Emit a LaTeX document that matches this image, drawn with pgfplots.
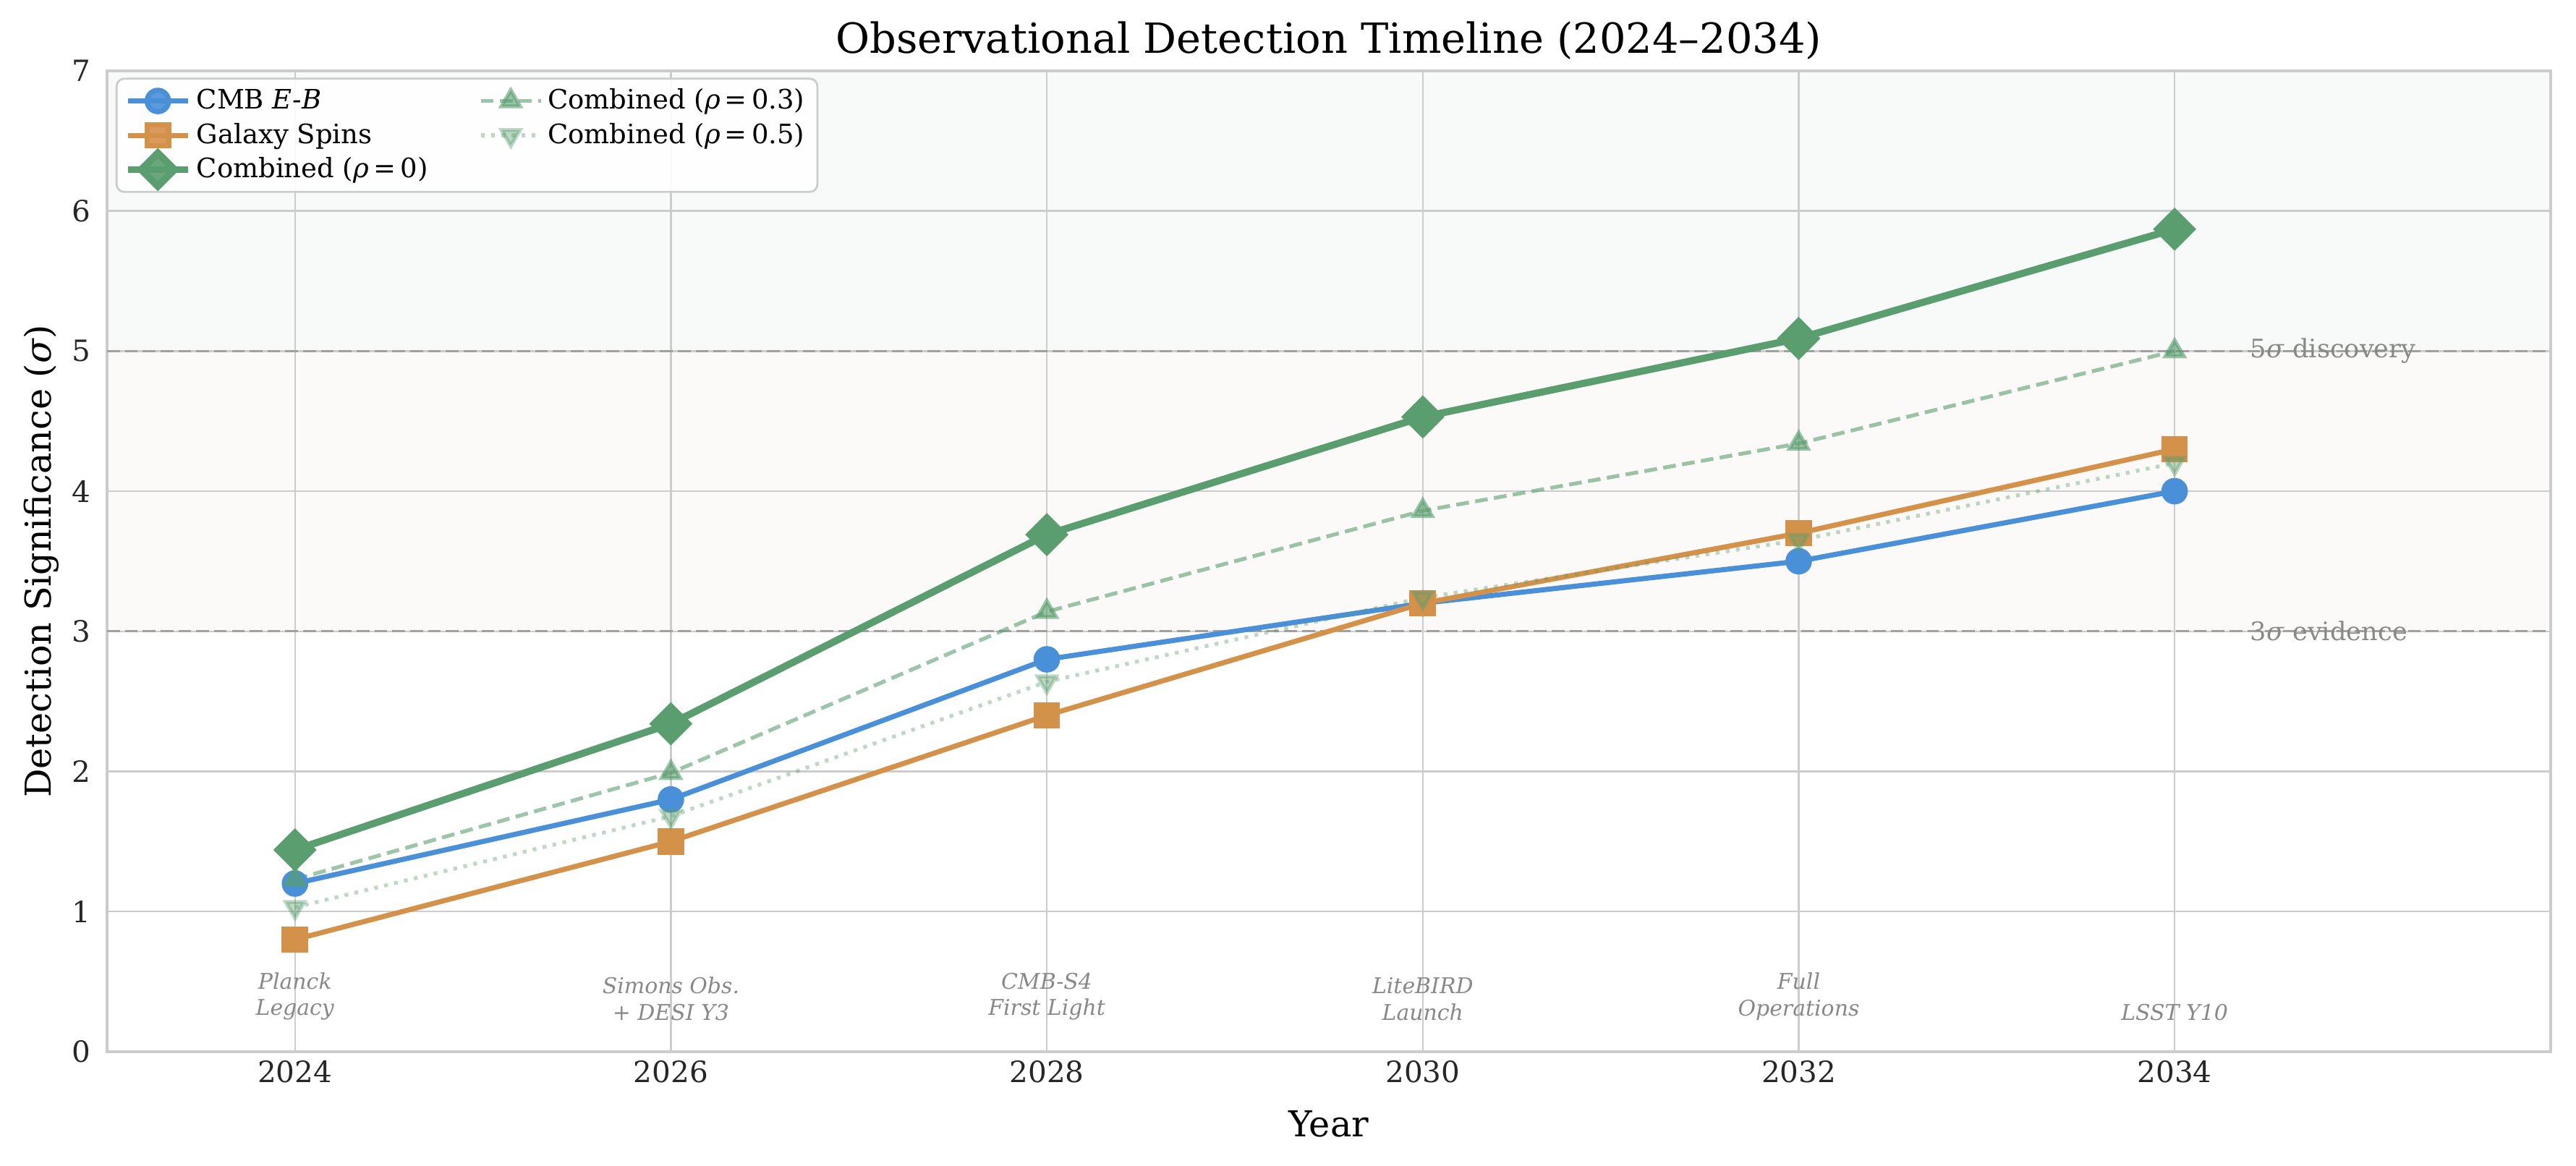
\documentclass[border=0pt]{standalone}
\usepackage{fontspec}
\setmainfont{DejaVu Serif}
\usepackage{pgfplots}
\pgfplotsset{compat=1.18}

\definecolor{cmbblue}{HTML}{4A90D9}
\definecolor{galorange}{HTML}{D4914A}
\definecolor{combgreen}{HTML}{5A9E6F}
\definecolor{spinegray}{HTML}{CCCCCC}
\definecolor{refgray}{HTML}{A0A0A0}
\definecolor{notegray}{HTML}{888888}
\definecolor{bandgreen}{HTML}{F8FAF9}
\definecolor{bandorange}{HTML}{FCFAF8}

\begin{document}
\begin{tikzpicture}
\begin{axis}[
    set layers,
    scale only axis,
    width=959pt, height=385pt,
    xmin=2023, xmax=2036, ymin=0, ymax=7,
    xtick={2024,2026,...,2034},
    ytick={0,...,7},
    x tick label style={/pgf/number format/1000 sep=},
    /pgf/number format/assume math mode=true,
    tick label style={font=\fontsize{11.5}{14}\selectfont, text=black!85},
    yticklabel style={xshift=-3pt},
    major tick length=0pt,
    grid=major,
    grid style={spinegray, line width=0.7pt},
    axis line style={spinegray, line width=1.1pt},
    every axis title shift=0pt,
    title={Observational Detection Timeline (2024–2034)},
    title style={font=\fontsize{16.3}{19}\selectfont, at={(0.5,1)}, anchor=base, yshift=6.8pt},
    xlabel={Year},
    ylabel={Detection Significance (\textit{σ})},
    label style={font=\fontsize{14}{16}\selectfont},
    xlabel style={at={(axis description cs:0.5,0)}, anchor=center, yshift=-28.4pt},
    ylabel style={at={(axis description cs:-0.027,0.5)}, anchor=center},
    legend columns=2,
    legend cell align=left,
    legend style={at={(0.0035,0.993)}, anchor=north west,
        draw=spinegray, line width=0.8pt, rounded corners=3pt,
        fill=white, fill opacity=0.9, text opacity=1,
        font=\fontsize{10.5}{12.5}\selectfont,
        /tikz/every even column/.append style={column sep=18pt}},
    legend image code/.code={
        \draw[mark repeat=2, mark phase=2, #1]
            plot coordinates {(0pt,0pt) (11.8pt,0pt) (23.6pt,0pt)};},
]

% shaded significance bands
\addplot[draw=none, fill=bandgreen, forget plot, on layer=axis background]
    coordinates {(2023,5) (2036,5) (2036,7) (2023,7)} -- cycle;
\addplot[draw=none, fill=bandorange, forget plot, on layer=axis background]
    coordinates {(2023,3) (2036,3) (2036,5) (2023,5)} -- cycle;
\addplot[refgray, line width=0.9pt, dash pattern=on 5pt off 2pt, forget plot]
    coordinates {(2023,5) (2036,5)};
\addplot[refgray, line width=0.9pt, dash pattern=on 5pt off 2pt, forget plot]
    coordinates {(2023,3) (2036,3)};

% plotted in legend order (two columns, filled by rows)
\addplot[cmbblue, line width=2pt, mark=*, mark size=4.2pt]
    coordinates {(2024,1.2) (2026,1.8) (2028,2.8) (2030,3.2) (2032,3.5) (2034,4.0)};
\addlegendentry{CMB \textit{E-B}}

\addplot[combgreen, opacity=0.6, line width=1.5pt, dash pattern=on 5pt off 2.5pt,
    mark=triangle*, mark size=4.2pt, mark options={solid}]
    coordinates {(2024,1.23) (2026,1.99) (2028,3.14) (2030,3.86) (2032,4.34) (2034,5.0)};
\addlegendentry{Combined (\textit{ρ}\,=\,0.3)}

\addplot[galorange, line width=2pt, mark=square*, mark size=4.2pt]
    coordinates {(2024,0.8) (2026,1.5) (2028,2.4) (2030,3.2) (2032,3.7) (2034,4.3)};
\addlegendentry{Galaxy Spins}

\addplot[combgreen, opacity=0.4, line width=1.5pt, dash pattern=on 1.5pt off 2.5pt,
    mark=triangle*, mark size=4.2pt, mark options={solid, rotate=180}]
    coordinates {(2024,1.03) (2026,1.68) (2028,2.64) (2030,3.24) (2032,3.65) (2034,4.2)};
\addlegendentry{Combined (\textit{ρ}\,=\,0.5)}

\addplot[combgreen, line width=2.8pt, mark=square*, mark size=4.6pt, mark options={rotate=45}]
    coordinates {(2024,1.44) (2026,2.34) (2028,3.69) (2030,4.53) (2032,5.09) (2034,5.87)};
\addlegendentry{Combined (\textit{ρ}\,=\,0)}

% threshold labels
\node[anchor=west, text=notegray, font=\fontsize{10}{12}\selectfont, inner sep=0pt]
    at (axis cs:2034.4,5) {5\textit{σ} discovery};
\node[anchor=west, text=notegray, font=\fontsize{10}{12}\selectfont, inner sep=0pt]
    at (axis cs:2034.4,3) {3\textit{σ} evidence};

% milestones
\begin{scope}[every node/.style={anchor=south, align=center, inner sep=0pt,
        text=notegray, font=\fontsize{8.5}{10.4}\selectfont\itshape}]
\node at (axis cs:2024,0.22) {Planck\\Legacy};
\node at (axis cs:2026,0.22) {Simons Obs.\\+ DESI Y3};
\node at (axis cs:2028,0.22) {CMB-S4\\First Light};
\node at (axis cs:2030,0.22) {LiteBIRD\\Launch};
\node at (axis cs:2032,0.22) {Full\\Operations};
\node at (axis cs:2034,0.22) {LSST Y10};
\end{scope}
\end{axis}
\pgfresetboundingbox
\path (current axis.south west) ++(-42pt,-44.6pt) coordinate (bbA)
      (current axis.north east) ++(10pt,27.8pt) coordinate (bbB);
\path (bbA) rectangle (bbB);
\end{tikzpicture}
\end{document}
